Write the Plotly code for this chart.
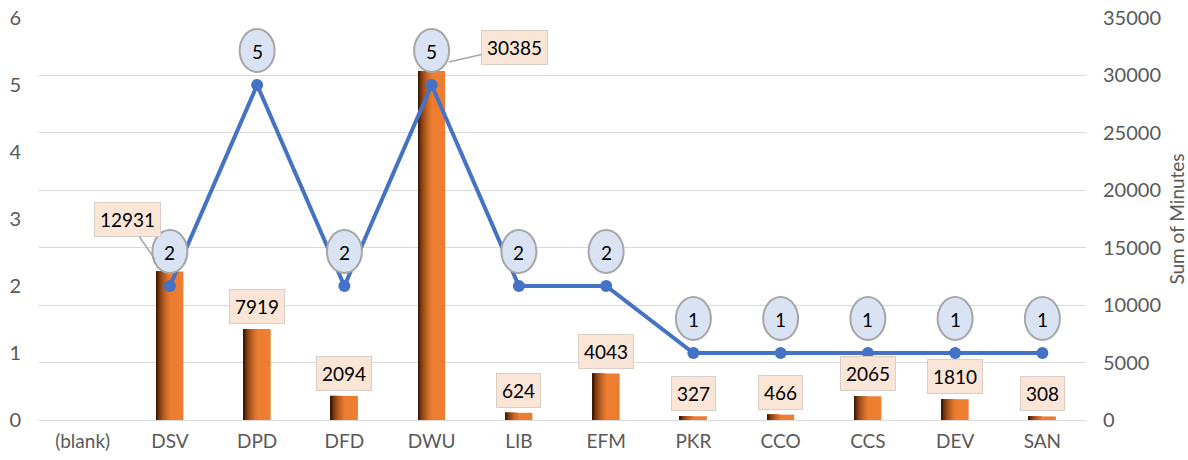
import plotly.graph_objects as go

# ---------------- data ----------------
categories = ["(blank)", "DSV", "DPD", "DFD", "DWU", "LIB", "EFM", "PKR", "CCO", "CCS", "DEV", "SAN"]
minutes = [None, 12931, 7919, 2094, 30385, 624, 4043, 327, 466, 2065, 1810, 308]
counts = [None, 2, 5, 2, 5, 2, 2, 1, 1, 1, 1, 1]
left_ticks = [0, 1, 2, 3, 4, 5, 6]
right_ticks = [0, 5000, 10000, 15000, 20000, 25000, 30000, 35000]

# ---------------- style ----------------
FONT = "Lato"
GRAY = "#595959"
ORANGE = (237, 125, 49)
DARK = (66, 26, 4)
BAR_W = 0.31
LINE_BLUE = "#4472C4"

fig = go.Figure()

# bars with a stepped horizontal gradient (dark left edge -> orange)
fig.add_trace(go.Bar(x=categories, y=minutes, yaxis="y", width=BAR_W, offset=-BAR_W / 2,
                     marker=dict(color="rgb(%d,%d,%d)" % ORANGE, line=dict(width=0)),
                     hoverinfo="skip", showlegend=False))
n_layers = 14
for i in range(n_layers):
    f = 0.5 * (1 - i / n_layers) ** 1.3
    t = ((i + 1) / n_layers) ** 1.2
    c = tuple(int(ORANGE[k] + (DARK[k] - ORANGE[k]) * t) for k in range(3))
    fig.add_trace(go.Bar(x=categories, y=minutes, yaxis="y", width=BAR_W * f, offset=-BAR_W / 2,
                         marker=dict(color="rgb(%d,%d,%d)" % c, line=dict(width=0)),
                         hoverinfo="skip", showlegend=False))

# count line
fig.add_trace(go.Scatter(x=categories, y=counts, yaxis="y2", mode="lines+markers",
                         line=dict(color=LINE_BLUE, width=4),
                         marker=dict(size=12, color=LINE_BLUE),
                         showlegend=False))

annotations = []
shapes = []

# bar value labels
special = {"DSV": dict(xshift=-15, yshift=12, ax=-27, ay=-40),
           "DWU": dict(xshift=17, yshift=9, ax=66, ay=-15)}
for c, v in zip(categories, minutes):
    if v is None:
        continue
    common = dict(x=c, y=v, xref="x", yref="y", text=str(v),
                  font=dict(family=FONT, size=19, color="#000000"),
                  bgcolor="#FBE5D6", bordercolor="#D9CFC7", borderwidth=1, borderpad=5)
    if c in special:
        s = special[c]
        annotations.append(dict(**common, showarrow=True, arrowhead=0, arrowwidth=1.5,
                                arrowcolor="#A6A6A6", xshift=s["xshift"], yshift=s["yshift"],
                                ax=s["ax"], ay=s["ay"]))
    else:
        annotations.append(dict(**common, showarrow=False, yanchor="bottom", yshift=5))

# count labels in ellipses
for c, n in zip(categories, counts):
    if n is None:
        continue
    shapes.append(dict(type="circle", xref="x", yref="y2", xsizemode="pixel", ysizemode="pixel",
                       xanchor=c, yanchor=n, x0=-17.5, x1=17.5, y0=13, y1=56,
                       fillcolor="#DAE3F3", line=dict(color="#A6A6A6", width=2), layer="above"))
    annotations.append(dict(x=c, y=n, xref="x", yref="y2", text=str(n), showarrow=False,
                            yshift=34, font=dict(family=FONT, size=19, color="#000000")))

fig.update_layout(
    width=1188, height=460,
    margin=dict(l=39, r=102, t=18, b=40, autoexpand=False),
    paper_bgcolor="white", plot_bgcolor="white",
    font=dict(family=FONT, size=19, color=GRAY),
    barmode="overlay",
    showlegend=False,
    xaxis=dict(type="category", range=[-0.5, 11.5], showgrid=False, zeroline=False,
               showline=True, linecolor="#D9D9D9", linewidth=1, ticks="",
               ticklabelstandoff=4, automargin=False,
               tickfont=dict(family=FONT, size=19, color=GRAY)),
    yaxis=dict(side="right", range=[0, 35000], tickvals=right_ticks,
               ticktext=[str(t) for t in right_ticks],
               showgrid=True, gridcolor="#D9D9D9", gridwidth=1, zeroline=False,
               showline=False, ticks="", ticklabelstandoff=16, automargin=False,
               title=dict(text="Sum of Minutes", standoff=10,
                          font=dict(family=FONT, size=19, color=GRAY)),
               tickfont=dict(family=FONT, size=20, color=GRAY)),
    yaxis2=dict(side="left", overlaying="y", range=[0, 6], tickvals=left_ticks,
                showgrid=False, zeroline=False, showline=False, ticks="",
                ticklabelstandoff=17, automargin=False,
                tickfont=dict(family=FONT, size=20, color=GRAY)),
    annotations=annotations,
    shapes=shapes,
)

fig.write_html("out.html")
